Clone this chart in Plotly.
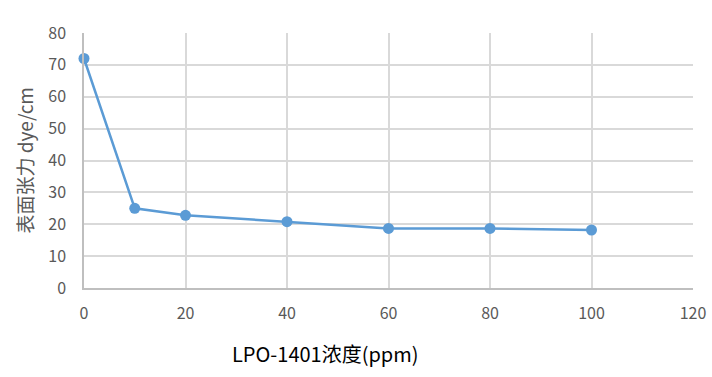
import plotly.graph_objects as go

x_vals = [0, 10, 20, 40, 60, 80, 100]
y_vals = [72, 25, 22.8, 20.8, 18.7, 18.7, 18.2]
x_ticks = [0, 20, 40, 60, 80, 100, 120]
y_ticks = [0, 10, 20, 30, 40, 50, 60, 70, 80]
x_title = "LPO-1401浓度(ppm)"
y_title = "表面张力 dye/cm"

font_family = "Noto Sans CJK SC, Noto Sans, sans-serif"

fig = go.Figure()
fig.add_trace(go.Scatter(
    x=x_vals, y=y_vals, mode="lines+markers",
    line=dict(color="#5b9bd5", width=2.5),
    marker=dict(color="#5b9bd5", size=11),
    cliponaxis=False, showlegend=False,
))

fig.update_layout(
    width=712, height=377,
    margin=dict(l=84, r=19, t=33, b=89, autoexpand=False),
    paper_bgcolor="white", plot_bgcolor="white",
    font=dict(family=font_family, color="#595959", size=16),
    xaxis=dict(
        range=[0, 120], tickvals=x_ticks, ticktext=[str(v) for v in x_ticks],
        showgrid=True, gridcolor="#d9d9d9", gridwidth=1.5,
        showline=True, linecolor="#bfbfbf", linewidth=1.5,
        zeroline=False, ticks="", ticklabelstandoff=10, automargin=False,
        tickfont=dict(size=16, color="#595959"),
    ),
    yaxis=dict(
        range=[0, 80], tickvals=y_ticks, ticktext=[str(v) for v in y_ticks],
        showgrid=True, gridcolor="#d9d9d9", gridwidth=1.5,
        showline=True, linecolor="#bfbfbf", linewidth=1.5,
        zeroline=False, ticks="", ticklabelstandoff=13, automargin=False,
        tickfont=dict(size=16, color="#595959"),
    ),
    annotations=[
        dict(text=x_title, xref="paper", yref="paper", x=(325 - 84) / 609, y=-(353 - 287.7) / 254.4,
             xanchor="center", yanchor="middle", showarrow=False,
             font=dict(size=20, color="#000000", family=font_family)),
        dict(text=y_title, xref="paper", yref="paper", x=-(84 - 24) / 609, y=0.5,
             xanchor="center", yanchor="middle", showarrow=False, textangle=-90,
             font=dict(size=19, color="#595959", family=font_family)),
    ],
)

fig.write_html(
    "out.html",
    config={"displayModeBar": False},
    post_script="document.body.style.margin='0px';document.body.style.overflow='hidden';",
)
